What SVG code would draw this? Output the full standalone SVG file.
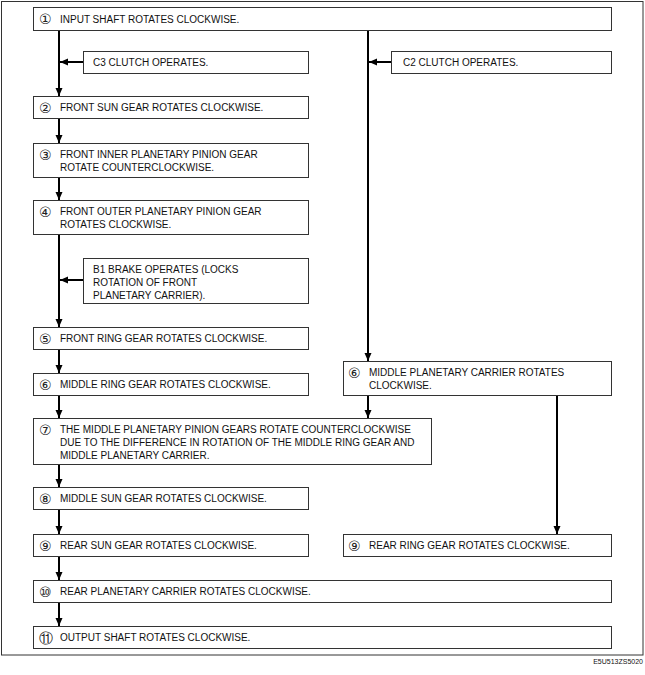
<svg xmlns="http://www.w3.org/2000/svg" width="645" height="675" viewBox="0 0 645 675">
<style>
.box{fill:#fff;stroke:#333;stroke-width:1}
.t{font-family:"Liberation Sans",Arial,sans-serif;font-size:10px;fill:#111}
.n{font-family:"DejaVu Sans",sans-serif;font-size:14px;fill:#222}
.c{stroke:#000;stroke-width:2;fill:none}
.code{font-family:"Liberation Sans",Arial,sans-serif;font-size:7px;fill:#111}
</style>
<defs>
<marker id="ah" markerWidth="8" markerHeight="8" viewBox="0 0 8 8" refX="8" refY="4" orient="auto" markerUnits="userSpaceOnUse">
<path d="M0,0.5 L8,4 L0,7.5 Z" fill="#000"/>
</marker>
</defs>
<rect x="1.5" y="1.5" width="641.5" height="653.5" fill="#fff" stroke="#333" stroke-width="1"/>
<g id="connectors">
<line class="c" x1="59" y1="30" x2="59" y2="96" marker-end="url(#ah)"/>
<line class="c" x1="83" y1="62" x2="60" y2="62" marker-end="url(#ah)"/>
<line class="c" x1="59" y1="118" x2="59" y2="143" marker-end="url(#ah)"/>
<line class="c" x1="59" y1="178" x2="59" y2="200" marker-end="url(#ah)"/>
<line class="c" x1="59" y1="235" x2="59" y2="327" marker-end="url(#ah)"/>
<line class="c" x1="83" y1="280" x2="60" y2="280" marker-end="url(#ah)"/>
<line class="c" x1="59" y1="349" x2="59" y2="373" marker-end="url(#ah)"/>
<line class="c" x1="59" y1="395" x2="59" y2="418" marker-end="url(#ah)"/>
<line class="c" x1="59" y1="465" x2="59" y2="487" marker-end="url(#ah)"/>
<line class="c" x1="59" y1="510" x2="59" y2="534" marker-end="url(#ah)"/>
<line class="c" x1="59" y1="557" x2="59" y2="580" marker-end="url(#ah)"/>
<line class="c" x1="59" y1="603" x2="59" y2="626" marker-end="url(#ah)"/>
<line class="c" x1="368" y1="30" x2="368" y2="361" marker-end="url(#ah)"/>
<line class="c" x1="391" y1="62" x2="369" y2="62" marker-end="url(#ah)"/>
<line class="c" x1="368" y1="396" x2="368" y2="418" marker-end="url(#ah)"/>
<line class="c" x1="557" y1="396" x2="557" y2="534" marker-end="url(#ah)"/>
</g>
<g id="n1"><rect class="box" x="33.5" y="7.5" width="578" height="23"/><text class="n" x="39" y="24">①</text><text class="t" x="60" y="22.5">INPUT SHAFT ROTATES CLOCKWISE.</text></g>
<g id="c3"><rect class="box" x="83.5" y="51.5" width="225" height="22"/><text class="t" x="93" y="66">C3 CLUTCH OPERATES.</text></g>
<g id="c2"><rect class="box" x="391.5" y="51.5" width="220" height="22"/><text class="t" x="403" y="66">C2 CLUTCH OPERATES.</text></g>
<g id="n2"><rect class="box" x="33.5" y="96.5" width="275" height="22"/><text class="n" x="39" y="112.5">②</text><text class="t" x="60" y="111">FRONT SUN GEAR ROTATES CLOCKWISE.</text></g>
<g id="n3"><rect class="box" x="33.5" y="143.5" width="275" height="34"/><text class="n" x="39" y="160">③</text><text class="t" x="60" y="158"><tspan x="60">FRONT INNER PLANETARY PINION GEAR</tspan><tspan x="60" dy="13">ROTATE COUNTERCLOCKWISE.</tspan></text></g>
<g id="n4"><rect class="box" x="33.5" y="200.5" width="275" height="34"/><text class="n" x="39" y="217">④</text><text class="t" x="60" y="215"><tspan x="60">FRONT OUTER PLANETARY PINION GEAR</tspan><tspan x="60" dy="13">ROTATES CLOCKWISE.</tspan></text></g>
<g id="b1"><rect class="box" x="83.5" y="258.5" width="225" height="45"/><text class="t" x="93" y="273"><tspan x="93">B1 BRAKE OPERATES (LOCKS</tspan><tspan x="93" dy="13">ROTATION OF FRONT</tspan><tspan x="93" dy="13">PLANETARY CARRIER).</tspan></text></g>
<g id="n5"><rect class="box" x="33.5" y="327.5" width="275" height="22"/><text class="n" x="39" y="343.5">⑤</text><text class="t" x="60" y="342">FRONT RING GEAR ROTATES CLOCKWISE.</text></g>
<g id="n6l"><rect class="box" x="33.5" y="373.5" width="275" height="22"/><text class="n" x="39" y="389.5">⑥</text><text class="t" x="60" y="388">MIDDLE RING GEAR ROTATES CLOCKWISE.</text></g>
<g id="n6r"><rect class="box" x="343.5" y="361.5" width="268" height="34"/><text class="n" x="348" y="378">⑥</text><text class="t" x="369" y="376"><tspan x="369">MIDDLE PLANETARY CARRIER ROTATES</tspan><tspan x="369" dy="13">CLOCKWISE.</tspan></text></g>
<g id="n7"><rect class="box" x="33.5" y="418.5" width="398" height="46"/><text class="n" x="39" y="435">⑦</text><text class="t" x="60" y="433"><tspan x="60">THE MIDDLE PLANETARY PINION GEARS ROTATE COUNTERCLOCKWISE</tspan><tspan x="60" dy="13">DUE TO THE DIFFERENCE IN ROTATION OF THE MIDDLE RING GEAR AND</tspan><tspan x="60" dy="13">MIDDLE PLANETARY CARRIER.</tspan></text></g>
<g id="n8"><rect class="box" x="33.5" y="487.5" width="275" height="22"/><text class="n" x="39" y="503.5">⑧</text><text class="t" x="60" y="502">MIDDLE SUN GEAR ROTATES CLOCKWISE.</text></g>
<g id="n9l"><rect class="box" x="33.5" y="534.5" width="275" height="22"/><text class="n" x="39" y="550.5">⑨</text><text class="t" x="60" y="549">REAR SUN GEAR ROTATES CLOCKWISE.</text></g>
<g id="n9r"><rect class="box" x="343.5" y="534.5" width="268" height="22"/><text class="n" x="348" y="550.5">⑨</text><text class="t" x="369" y="549">REAR RING GEAR ROTATES CLOCKWISE.</text></g>
<g id="n10"><rect class="box" x="33.5" y="580.5" width="578" height="22"/><text class="n" x="39" y="596.5">⑩</text><text class="t" x="60" y="595">REAR PLANETARY CARRIER ROTATES CLOCKWISE.</text></g>
<g id="n11"><rect class="box" x="33.5" y="626.5" width="578" height="22"/><text class="n" x="39" y="642.5">⑪</text><text class="t" x="60" y="641">OUTPUT SHAFT ROTATES CLOCKWISE.</text></g>
<text class="code" x="643" y="664" text-anchor="end">E5U513ZS5020</text>
</svg>
